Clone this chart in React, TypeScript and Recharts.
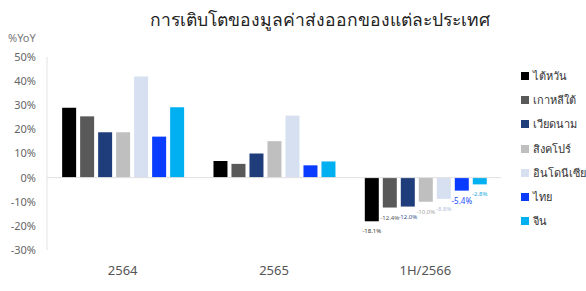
import React from 'react';
import { BarChart, Bar, XAxis, YAxis, ReferenceLine, LabelList } from 'recharts';

if (typeof document !== 'undefined') {
  document.body.style.margin = '0';
}

const categories = ['2564', '2565', '1H/2566'];
const taiwan = [29.0, 6.9, -18.1];
const korea = [25.4, 5.7, -12.4];
const vietnam = [18.8, 10.0, -12.0];
const singapore = [18.8, 15.1, -10.0];
const indonesia = [41.9, 25.7, -8.8];
const thailand = [17.0, 5.1, -5.4];
const china = [29.2, 6.7, -2.8];
const yTicks = [-30, -20, -10, 0, 10, 20, 30, 40, 50];

const series = [
  { key: 'taiwan', name: 'ไต้หวัน', values: taiwan, color: '#000000', labelColor: '#333333', labelSize: 6 },
  { key: 'korea', name: 'เกาหลีใต้', values: korea, color: '#595959', labelColor: '#555555', labelSize: 6 },
  { key: 'vietnam', name: 'เวียดนาม', values: vietnam, color: '#1f3d7a', labelColor: '#2f4f8f', labelSize: 6 },
  { key: 'singapore', name: 'สิงคโปร์', values: singapore, color: '#bfbfbf', labelColor: '#a6a6a6', labelSize: 6 },
  { key: 'indonesia', name: 'อินโดนีเซีย', values: indonesia, color: '#d6e0f0', labelColor: '#b4c2dc', labelSize: 6 },
  { key: 'thailand', name: 'ไทย', values: thailand, color: '#0a3cff', labelColor: '#1a4dff', labelSize: 8 },
  { key: 'china', name: 'จีน', values: china, color: '#00b0f0', labelColor: '#22aadd', labelSize: 6 },
];

const data = categories.map((c, i) => {
  const row: Record<string, any> = { category: c };
  series.forEach((s) => {
    row[s.key] = s.values[i];
  });
  return row;
});

const FONT = "'Noto Sans', 'DejaVu Sans', sans-serif";

const makeLabel = (color: string, size: number) => (props: any) => {
  const { x, y, width, height, value, index } = props;
  if (index !== 2) return null;
  const bottom = Math.max(Number(y), Number(y) + Number(height));
  return (
    <text
      x={Number(x) + Number(width) / 2}
      y={bottom + 10}
      fill={color}
      fontSize={size}
      fontFamily={FONT}
      textAnchor="middle"
      dominantBaseline="central"
    >
      {Number(value).toFixed(1)}%
    </text>
  );
};

export default function App() {
  return (
    <div style={{ position: 'relative', width: 586, height: 291, background: '#fff', overflow: 'hidden' }}>
      <div
        style={{
          position: 'absolute',
          left: 0,
          width: 640,
          top: 6,
          textAlign: 'center',
          fontFamily: FONT,
          fontSize: 17.5,
          color: '#222',
        }}
      >
        การเติบโตของมูลค่าส่งออกของแต่ละประเทศ
      </div>
      <div
        style={{
          position: 'absolute',
          left: 8,
          top: 30,
          fontFamily: FONT,
          fontSize: 11,
          color: '#777',
        }}
      >
        %YoY
      </div>
      <div style={{ position: 'absolute', left: 521, top: 64, fontFamily: FONT }}>
        {series.map((s) => (
          <div key={s.key} style={{ display: 'flex', alignItems: 'center', height: 24.2, whiteSpace: 'nowrap' }}>
            <span style={{ display: 'inline-block', width: 8, height: 8, background: s.color, marginRight: 4 }} />
            <span style={{ fontSize: 11, color: '#333' }}>{s.name}</span>
          </div>
        ))}
      </div>
      <BarChart
        width={586}
        height={291}
        data={data}
        margin={{ top: 57, right: 85, bottom: 11, left: 9 }}
        barCategoryGap="10%"
        barGap={4}
      >
        <XAxis
          dataKey="category"
          axisLine={false}
          tickLine={false}
          height={30}
          tickMargin={10}
          tick={{ fill: '#555', fontSize: 13, fontFamily: FONT }}
        />
        <YAxis
          domain={[-30, 50]}
          ticks={yTicks}
          interval={0}
          width={38}
          tickSize={0}
          tickMargin={11}
          axisLine={{ stroke: '#e3e3e3' }}
          tickLine={false}
          tickFormatter={(v: number) => `${v}%`}
          tick={{ fill: '#666', fontSize: 11, fontFamily: FONT }}
        />
        <ReferenceLine y={0} stroke="#e0e0e0" strokeWidth={1} />
        {series.map((s) => (
          <Bar key={s.key} dataKey={s.key} name={s.name} fill={s.color} isAnimationActive={false}>
            <LabelList dataKey={s.key} content={makeLabel(s.labelColor, s.labelSize)} />
          </Bar>
        ))}
      </BarChart>
    </div>
  );
}
